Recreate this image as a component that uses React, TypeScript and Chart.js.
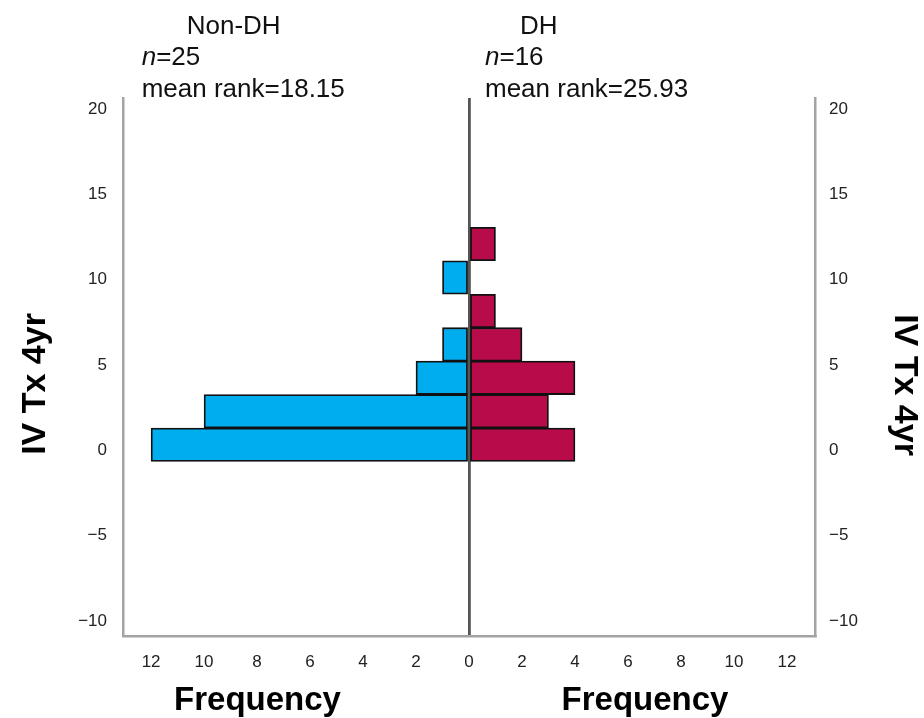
import { useEffect, useRef } from "react";
import { Chart, registerables } from "chart.js";

Chart.register(...registerables);

// ---- data ----
const binCenters = [0.33, 2.29, 4.25, 6.21, 8.17, 10.13, 12.09];
const nonDHCounts: (number | null)[] = [12, 10, 2, 1, null, 1, null];
const dhCounts: (number | null)[] = [4, 3, 4, 2, 1, null, 1];
const yTickValues = [-10, -5, 0, 5, 10, 15, 20];
const xTickValues = [-12, -10, -8, -6, -4, -2, 0, 2, 4, 6, 8, 10, 12];
const groupNames = ["Non-DH", "DH"];
const groupN = ["25", "16"];
const groupMeanRank = ["18.15", "25.93"];
const yAxisTitle = "IV Tx 4yr";
const xAxisTitle = "Frequency";

const Y_MIN = -10.88;
const Y_MAX = 20.65;
const X_LIM = 13.06;

const FONT = "'Liberation Sans', Arial, Helvetica, sans-serif";
const fmt = (v: number) => String(Math.round(v)).replace("-", "\u2212");

const textPlugin = {
  id: "textPlugin",
  afterDraw(chart: any) {
    const ctx = chart.ctx as CanvasRenderingContext2D;
    ctx.save();
    ctx.fillStyle = "#111";
    ctx.textBaseline = "alphabetic";
    // header blocks
    const headerX = [186.7, 520];
    const blockX = [141.7, 485];
    for (let i = 0; i < 2; i++) {
      ctx.font = `26px ${FONT}`;
      ctx.textAlign = "left";
      ctx.fillText(groupNames[i], headerX[i], 34);
      ctx.font = `italic 26px ${FONT}`;
      ctx.fillText("n", blockX[i], 65);
      const w = ctx.measureText("n").width;
      ctx.font = `26px ${FONT}`;
      ctx.fillText("=" + groupN[i], blockX[i] + w, 65);
      ctx.fillText("mean rank=" + groupMeanRank[i], blockX[i], 96.5);
    }
    // x titles
    ctx.font = `bold 33px ${FONT}`;
    ctx.textAlign = "center";
    ctx.fillStyle = "#000";
    ctx.fillText(xAxisTitle, 257.5, 710);
    ctx.fillText(xAxisTitle, 645, 710);
    // y titles
    ctx.save();
    ctx.translate(45, 384);
    ctx.rotate(-Math.PI / 2);
    ctx.font = `bold 34px ${FONT}`;
    ctx.textAlign = "center";
    ctx.fillText(yAxisTitle, 0, 0);
    ctx.restore();
    ctx.save();
    ctx.translate(895, 385);
    ctx.rotate(Math.PI / 2);
    ctx.font = `bold 34px ${FONT}`;
    ctx.textAlign = "center";
    ctx.fillText(yAxisTitle, 0, 0);
    ctx.restore();
    ctx.restore();
  },
};

export default function App() {
  const ref = useRef<HTMLCanvasElement | null>(null);
  useEffect(() => {
    if (!ref.current) return;
    const tickFont = { family: FONT, size: 17 };
    const yAxisCommon = {
      type: "linear" as const,
      min: Y_MIN,
      max: Y_MAX,
      offset: false,
      grid: { display: false, offset: false, drawTicks: false },
      border: { display: true, color: "#a3a3a3", width: 2.5 },
      afterBuildTicks: (s: any) => {
        s.ticks = yTickValues.map((v) => ({ value: v }));
      },
    };
    const chart = new Chart(ref.current, {
      type: "bar",
      data: {
        datasets: [
          {
            label: groupNames[0],
            data: binCenters.map((c, i) => ({
              x: nonDHCounts[i] == null ? null : -(nonDHCounts[i] as number),
              y: c,
            })) as any,
            backgroundColor: "#00aeef",
            borderColor: "#111",
            borderWidth: 1.8,
            borderSkipped: false,
            grouped: false,
            barPercentage: 1,
            categoryPercentage: 1,
          },
          {
            label: groupNames[1],
            data: binCenters.map((c, i) => ({ x: dhCounts[i], y: c })) as any,
            backgroundColor: "#b80b4a",
            borderColor: "#111",
            borderWidth: 1.8,
            borderSkipped: false,
            grouped: false,
            barPercentage: 1,
            categoryPercentage: 1,
          },
        ],
      },
      options: {
        indexAxis: "y",
        animation: false,
        responsive: false,
        devicePixelRatio: 1,
        layout: { padding: { top: 98, left: 0, right: 0, bottom: 0 } },
        plugins: { legend: { display: false }, tooltip: { enabled: false } },
        scales: {
          x: {
            type: "linear",
            position: "bottom",
            min: -X_LIM,
            max: X_LIM,
            grid: {
              display: true,
              drawTicks: false,
              color: (c: any) => (c.tick && c.tick.value === 0 ? "#555" : "rgba(0,0,0,0)"),
              lineWidth: 2.8,
            },
            border: { display: true, color: "#a3a3a3", width: 2.5 },
            ticks: {
              font: tickFont,
              color: "#222",
              padding: 16,
              autoSkip: false,
              maxRotation: 0,
              callback: (v: any) => String(Math.abs(Math.round(Number(v)))),
            },
            afterBuildTicks: (s: any) => {
              s.ticks = xTickValues.map((v) => ({ value: v }));
            },
            afterFit: (s: any) => {
              s.height = 82;
            },
          },
          y: {
            ...yAxisCommon,
            position: "left",
            ticks: { font: tickFont, color: "#222", padding: 16, autoSkip: false, callback: (v: any) => fmt(Number(v)) },
            afterFit: (s: any) => {
              s.width = 123;
            },
          },
          y2: {
            ...yAxisCommon,
            position: "right",
            ticks: { font: tickFont, color: "#222", padding: 14, autoSkip: false, callback: (v: any) => fmt(Number(v)) },
            afterFit: (s: any) => {
              s.width = 109;
            },
          },
        },
      } as any,
      plugins: [textPlugin],
    });
    return () => chart.destroy();
  }, []);
  return (
    <div style={{ position: "absolute", left: 0, top: 0, width: 924, height: 718, background: "#fff" }}>
      <canvas ref={ref} width={924} height={718} style={{ display: "block", width: 924, height: 718 }} />
    </div>
  );
}
